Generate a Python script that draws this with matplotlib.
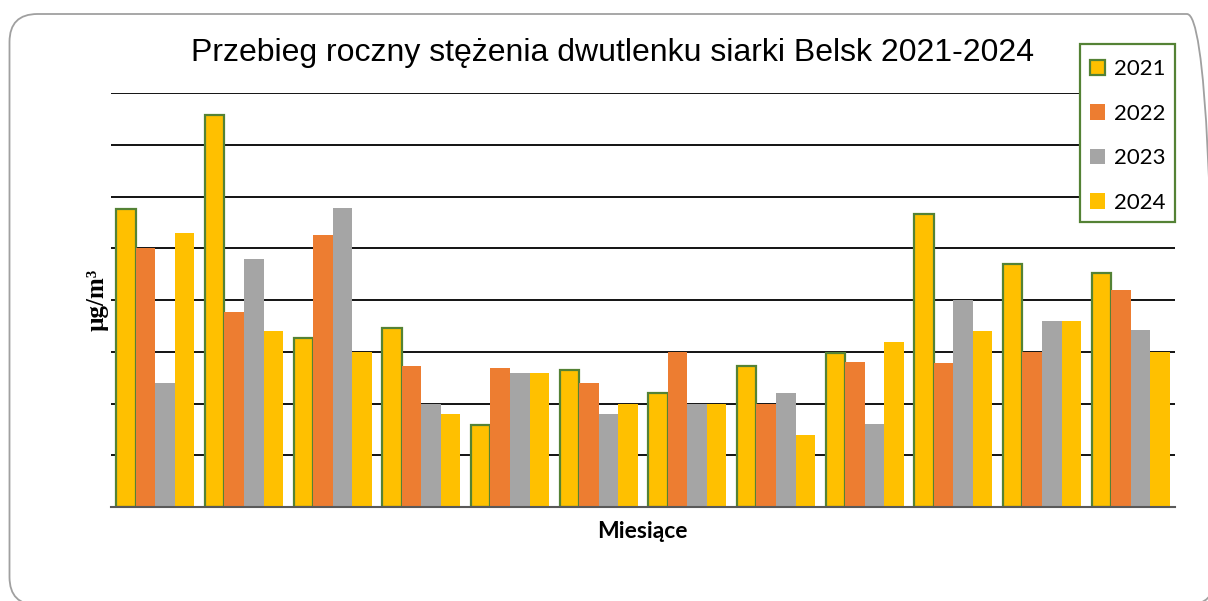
import matplotlib
matplotlib.use("Agg")
import matplotlib.pyplot as plt
import numpy as np
from matplotlib.patches import FancyBboxPatch, Patch, Rectangle
from matplotlib.transforms import IdentityTransform

months = ["I", "II", "III", "IV", "V", "VI", "VII", "VIII", "IX", "X", "XI", "XII"]
years = ["2021", "2022", "2023", "2024"]
v2021 = [5.76, 7.57, 3.27, 3.46, 1.58, 2.65, 2.20, 2.72, 2.98, 5.66, 4.70, 4.52]
v2022 = [5.00, 3.77, 5.26, 2.72, 2.69, 2.40, 3.00, 2.00, 2.80, 2.78, 3.00, 4.19]
v2023 = [2.40, 4.79, 5.78, 2.00, 2.59, 1.80, 2.00, 2.20, 1.60, 4.00, 3.60, 3.42]
v2024 = [5.29, 3.40, 3.00, 1.80, 2.59, 2.00, 2.00, 1.39, 3.19, 3.40, 3.60, 3.00]
series = [v2021, v2022, v2023, v2024]
colors = ["#FFC000", "#ED7D31", "#A5A5A5", "#FFC000"]
edge2021 = "#548235"

W, H = 1208, 601
fig = plt.figure(figsize=(W/100, H/100), dpi=100)
ax = fig.add_axes([111/W, 1-507/H, (1175-111)/W, (507-93)/H])

# rounded border of chart area
border = FancyBboxPatch((9.5, -4), 1215-9.5, H-14+4, boxstyle="round,pad=0,rounding_size=28",
                        transform=IdentityTransform(), fill=False, edgecolor="#A0A0A0", linewidth=1.3)
fig.patches.append(border)

x = np.arange(len(months))
w = 0.22
for i, (vals, c) in enumerate(zip(series, colors)):
    pos = x - 1.5*w + i*w
    if i == 0:
        ax.bar(pos, vals, width=w, color=c, edgecolor=edge2021, linewidth=1.6, zorder=3, label=years[i])
    else:
        ax.bar(pos, vals, width=w, color=c, edgecolor="none", zorder=3, label=years[i])

ax.set_xlim(-0.5, 11.5)
ax.set_ylim(0, 8)
ax.set_yticks(np.arange(0, 9, 1))
ax.yaxis.grid(True, color="black", linewidth=1.3, zorder=0)
ax.set_axisbelow(True)
ax.tick_params(left=False, bottom=False, labelleft=False, labelbottom=False)
for s in ["left", "right", "top"]:
    ax.spines[s].set_visible(False)
ax.spines["bottom"].set_color("#595959")
ax.spines["bottom"].set_linewidth(1.5)
ax.spines["bottom"].set_zorder(4)

fig.text(613/W, 1-53/H, "Przebieg roczny stężenia dwutlenku siarki Belsk 2021-2024",
         ha="center", va="center", fontsize=23, family="Liberation Sans")
fig.text(97/W, 1-300/H, "µg/m³", rotation=90, ha="center", va="center",
         fontsize=18, fontweight="bold", family="Liberation Serif")
fig.text(642/W, 1-531/H, "Miesiące", ha="center", va="center",
         fontsize=16.5, fontweight="bold", family="Lato")

# legend box
lx0, lx1, ly0, ly1 = 1080, 1175, 44, 222
box = Rectangle((lx0/W, 1-ly1/H), (lx1-lx0)/W, (ly1-ly0)/H, transform=fig.transFigure,
                facecolor="white", edgecolor=edge2021, linewidth=1.6, zorder=3)
fig.patches.append(box)

handles = [Patch(facecolor=colors[0], edgecolor=edge2021, linewidth=1.6),
           Patch(facecolor=colors[1], edgecolor="none"),
           Patch(facecolor=colors[2], edgecolor="none"),
           Patch(facecolor=colors[3], edgecolor="none")]
shift = 3
leg = fig.legend(handles, years, loc="center",
                 bbox_to_anchor=(lx0/W, 1-(ly1+shift)/H, (lx1-lx0)/W, (ly1-ly0)/H),
                 frameon=False, prop={"family": "Lato", "size": 16},
                 handlelength=0.7, handleheight=0.7, handletextpad=0.4, labelspacing=1.1,
                 borderpad=0.0, borderaxespad=0)
leg.set_zorder(6)

fig.savefig("out.png", dpi=100)
